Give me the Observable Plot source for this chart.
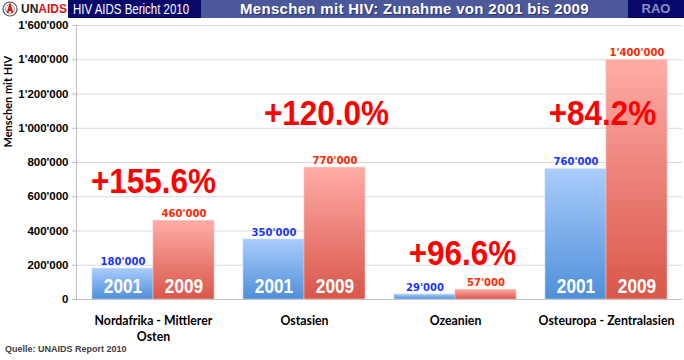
<!DOCTYPE html>
<html>
<head>
<meta charset="utf-8">
<script src="https://cdn.jsdelivr.net/npm/d3@7"></script>
<script src="https://cdn.jsdelivr.net/npm/@observablehq/plot@0.6"></script>
<style>
  html, body { margin: 0; padding: 0; background: #fff; }
  #page { width: 684px; height: 360px; position: relative; overflow: hidden; }
  #header { display: flex; height: 18px; width: 684px; }
  #logo { width: 68px; background: #fff; display: flex; align-items: center; font: bold 12px "Liberation Sans", Arial, sans-serif; }
  #logo .un { color: #222; margin-left: 3px; }
  #logo .aids { color: #e01010; }
  #report { width: 133px; background: #08086b; color: #fff; font: 14px "Liberation Sans", Arial, sans-serif; line-height: 18px; padding-left: 5px; box-sizing: border-box; white-space: nowrap; overflow: hidden; }
  #report span { display: inline-block; transform: scaleX(0.82); transform-origin: left center; }
  #title { width: 427px; background: #4b5899; color: #fff; font: bold 15px "Liberation Sans", Arial, sans-serif; line-height: 18px; text-align: center; text-shadow: 1px 1px 0 #2a336a; letter-spacing: 0.3px; white-space: nowrap; }
  #rao { width: 56px; background: #08086b; color: #8c92c4; font: bold 13px "Liberation Sans", Arial, sans-serif; line-height: 18px; text-align: center; }
  #chart svg { display: block; }
  #source { position: absolute; left: 5px; top: 344px; font: bold 9px "Liberation Sans", Arial, sans-serif; color: #404040; }
</style>
</head>
<body>
<div id="page">
  <div id="header">
    <div id="logo">
      <svg width="16" height="16" viewBox="0 0 16 16" style="margin-left:2px">
        <circle cx="8" cy="8" r="7" fill="#fff" stroke="#555" stroke-width="1.2"/>
        <circle cx="8" cy="8" r="4.5" fill="none" stroke="#888" stroke-width="0.8"/>
        <path d="M5.5 12 L8 4 L10.5 12 M6.5 9 L9.5 9" stroke="#e01010" stroke-width="1.8" fill="none"/>
      </svg>
      <span class="un">UN</span><span class="aids">AIDS</span>
    </div>
    <div id="report"><span>HIV AIDS Bericht 2010</span></div>
    <div id="title">Menschen mit HIV: Zunahme von 2001 bis 2009</div>
    <div id="rao">RAO</div>
  </div>
  <div id="chart"></div>
  <div id="source">Quelle: UNAIDS Report 2010</div>
</div>
<script>
// ---- data ----
const categories = ["Nordafrika - Mittlerer Osten", "Ostasien", "Ozeanien", "Osteuropa - Zentralasien"];
const tickLabels = ["Nordafrika - Mittlerer\nOsten", "Ostasien", "Ozeanien", "Osteuropa - Zentralasien"];
const years = ["2001", "2009"];
const values2001 = [180000, 350000, 29000, 760000];
const values2009 = [460000, 770000, 57000, 1400000];
const changeLabels = ["+155.6%", "+120.0%", "+96.6%", "+84.2%"];
const changeLabelAt = [619000, 1020000, 200000, 1020000];
const yTicks = [0, 200000, 400000, 600000, 800000, 1000000, 1200000, 1400000, 1600000];

const rows = categories.map((c, i) => ({
  region: c, v2001: values2001[i], v2009: values2009[i],
  change: changeLabels[i], at: changeLabelAt[i]
}));

const fmt = d3.formatLocale({decimal: ".", thousands: "'", grouping: [3], currency: ["", ""]}).format(",d");

const W = 684, H = 330, mL = 76, mR = 2, mT = 7, mB = 49;
const padIn = 0.195, padOut = padIn / 2;
const step = (W - mL - mR) / (categories.length - padIn + 2 * padOut);
const bw = step * (1 - padIn);
const half = bw / 2;
const changeDx = [0, 22, 7, -4];

const valueFont = "'DejaVu Sans', sans-serif";
const arial = "'Liberation Sans', Arial, sans-serif";

const plot = Plot.plot({
  width: W, height: H,
  marginLeft: mL, marginRight: mR, marginTop: mT, marginBottom: mB,
  style: {fontFamily: arial, color: "#000", background: "transparent"},
  x: {domain: categories, paddingInner: padIn, paddingOuter: padOut, label: null},
  y: {domain: [0, 1600000], label: null},
  marks: [
    Plot.gridY(yTicks, {stroke: "#d9d9d9", strokeOpacity: 1}),
    Plot.ruleY([0], {stroke: "#bfbfbf"}),
    Plot.frame({anchor: "left", stroke: "#bfbfbf"}),
    Plot.axisY({ticks: yTicks, tickFormat: fmt, tickSize: 4, tickPadding: 4, stroke: "#bfbfbf", fill: "#000",
      fontSize: 11.5, fontWeight: "bold", label: null}),
    Plot.axisX({tickSize: 0, tickPadding: 14, tickFormat: d => tickLabels[categories.indexOf(d)],
      fontSize: 12.3, fontWeight: "bold", fontFamily: "Lato, sans-serif", lineHeight: 1.3, label: null}),
    Plot.text(["Menschen mit HIV"], {frameAnchor: "left", rotate: -90, dx: -68, dy: -15,
      fontSize: 11, fontWeight: "bold", fontFamily: "Lato, sans-serif", fill: "#000"}),
    // bars
    Plot.barY(rows, {x: "region", y: "v2001", insetRight: half, insetLeft: 0, fill: "url(#gBlue)", stroke: "#b9d4f5", strokeWidth: 0.6}),
    Plot.barY(rows, {x: "region", y: "v2009", insetLeft: half, insetRight: 0, fill: "url(#gRed)", stroke: "#f6c2bc", strokeWidth: 0.6}),
    // value labels
    Plot.text(rows, {x: "region", y: "v2001", text: d => fmt(d.v2001), dx: -half / 2, dy: -4, lineAnchor: "bottom",
      fill: "#1a35ff", fontWeight: "bold", fontSize: 10, fontFamily: valueFont}),
    Plot.text(rows, {x: "region", y: "v2009", text: d => fmt(d.v2009), dx: half / 2, dy: -4, lineAnchor: "bottom",
      fill: "#ff2a00", fontWeight: "bold", fontSize: 10, fontFamily: valueFont}),
    // year labels inside tall bars
    Plot.text(rows.filter(d => d.v2001 > 100000), {x: "region", y: 0, text: () => years[0], dx: -half / 2, dy: -7, lineAnchor: "bottom",
      fill: "#fff", fontWeight: "bold", fontSize: 21, fontFamily: arial, className: "narrow82"}),
    Plot.text(rows.filter(d => d.v2001 > 100000), {x: "region", y: 0, text: () => years[1], dx: half / 2, dy: -7, lineAnchor: "bottom",
      fill: "#fff", fontWeight: "bold", fontSize: 21, fontFamily: arial, className: "narrow82"}),
    // change labels
    ...rows.map((r, i) => Plot.text([r], {x: "region", y: "at", text: "change", dx: changeDx[i], lineAnchor: "bottom",
      fill: "#ff0000", fontWeight: "bold", fontSize: 35, fontFamily: arial, className: "narrow90"}))
  ]
});

plot.insertAdjacentHTML("afterbegin", `
<defs>
  <linearGradient id="gBlue" x1="0" y1="0" x2="0" y2="1">
    <stop offset="0" stop-color="#a9cdfc"/>
    <stop offset="1" stop-color="#4f8fd9"/>
  </linearGradient>
  <linearGradient id="gRed" x1="0" y1="0" x2="0" y2="1">
    <stop offset="0" stop-color="#ffaca6"/>
    <stop offset="1" stop-color="#d9564a"/>
  </linearGradient>
</defs>`);

// horizontally condense text (narrow typeface look)
function condense(cls, k) {
  plot.querySelectorAll(`g.${cls} text, text.${cls}`).forEach(t => {
    let tr = t.getAttribute("transform") || "";
    const x = t.getAttribute("x"), y = t.getAttribute("y");
    if (x != null || y != null) {
      tr += ` translate(${x || 0},${y || 0})`;
      t.removeAttribute("x"); t.removeAttribute("y");
    }
    t.setAttribute("transform", `${tr} scale(${k},1)`);
  });
}
condense("narrow82", 0.82);
condense("narrow90", 0.9);

document.getElementById("chart").appendChild(plot);
</script>
</body>
</html>
